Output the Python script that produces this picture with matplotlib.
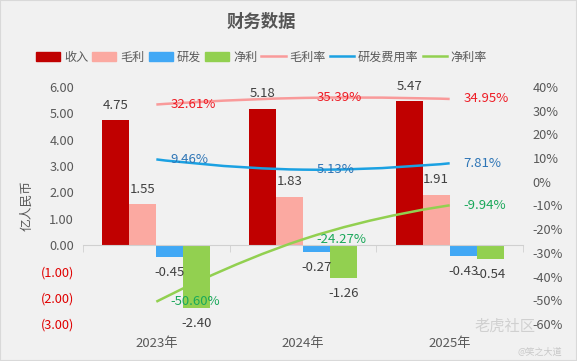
import numpy as np
import matplotlib
matplotlib.use("Agg")
import matplotlib.pyplot as plt
from matplotlib.path import Path
from matplotlib.patches import PathPatch, Rectangle
from matplotlib.lines import Line2D
from matplotlib.ticker import FuncFormatter

plt.rcParams['font.family'] = ['Noto Sans CJK SC', 'DejaVu Sans']

# ---------------- data ----------------
years = ["2023年", "2024年", "2025年"]
revenue = [4.75, 5.18, 5.47]
gross_profit = [1.55, 1.83, 1.91]
rnd = [-0.45, -0.27, -0.43]
net_profit = [-2.40, -1.26, -0.54]
gross_margin = [32.61, 35.39, 34.95]
rnd_rate = [9.46, 5.13, 7.81]
net_margin = [-50.60, -24.27, -9.94]

bar_names = ["收入", "毛利", "研发", "净利"]
line_names = ["毛利率", "研发费用率", "净利率"]
bar_colors = ["#c00000", "#fba9a1", "#41a8f5", "#92d050"]
line_colors = ["#f99a9a", "#1ba1e2", "#92d050"]
line_label_colors = ["#ee1c25", "#2e75b6", "#1aa85a"]

title = "财务数据"
ylabel = "亿人民币"

W, H = 577, 361
fig = plt.figure(figsize=(W / 100, H / 100), dpi=100)
fig.patch.set_facecolor("#f1f1f1")
fig.patches.append(Rectangle((0, 0), 1, 1, transform=fig.transFigure,
                             fill=False, edgecolor="#d9d9d9", linewidth=1.5))

ax = fig.add_axes([83 / W, 1 - 324 / H, 440 / W, 237 / H])
ax.set_facecolor("none")
ax2 = ax.twinx()
ax2.set_facecolor("none")

x = np.arange(len(years))
bw = 0.184
series = [revenue, gross_profit, rnd, net_profit]
text_c = "#404040"
for k, (vals, col) in enumerate(zip(series, bar_colors)):
    xs = x + (k - 1.5) * bw
    ax.bar(xs, vals, width=bw, color=col, zorder=2)
    for xi, v in zip(xs, vals):
        if v >= 0:
            ax.annotate(f"{v:.2f}", (xi, v), xytext=(0, 6), textcoords="offset points",
                        ha="center", va="bottom", fontsize=9.5, color=text_c)
        else:
            ax.annotate(f"{v:.2f}", (xi, v), xytext=(0, -6.5), textcoords="offset points",
                        ha="center", va="top", fontsize=9.5, color=text_c)

ax.set_xlim(-0.5, len(years) - 0.5)
ax.set_ylim(-3, 6)
ax.set_yticks(np.arange(-3, 7, 1))


def lfmt(v, pos):
    return f"({abs(v):.2f})" if v < 0 else f"{v:.2f}"


ax.yaxis.set_major_formatter(FuncFormatter(lfmt))
ax.tick_params(axis="y", length=0, pad=6.5, labelsize=9.2)
for lbl, v in zip(ax.get_yticklabels(), np.arange(-3, 7, 1)):
    lbl.set_color("#e00000" if v < 0 else "#595959")
ax.set_ylabel(ylabel, fontsize=9.2, color="#595959", labelpad=5)

for s in ["top", "left", "right"]:
    ax.spines[s].set_visible(False)
    ax2.spines[s].set_visible(False)
ax2.spines["bottom"].set_visible(False)
ax.spines["bottom"].set_position(("data", 0))
ax.spines["bottom"].set_color("#d0d0d0")
ax.set_xticks([])
ax.set_xticks(np.arange(-0.5, len(years), 1), minor=True)
ax.tick_params(axis="x", which="minor", length=5, color="#d0d0d0", labelbottom=False)

sec = ax.secondary_xaxis("bottom")
sec.set_xticks(x, labels=years)
sec.tick_params(length=0, pad=9, labelsize=9.5, labelcolor="#595959")
sec.spines["bottom"].set_visible(False)

# right axis
ax2.set_ylim(-60, 40)
ax2.set_yticks(np.arange(-60, 41, 10))
ax2.yaxis.set_major_formatter(FuncFormatter(lambda v, p: f"{v:.0f}%"))
ax2.tick_params(axis="y", length=0, pad=7, labelsize=9.2, labelcolor="#595959")


def smooth_path(xs, ys, s=0.5):
    pts = np.column_stack([xs, ys]).astype(float)
    n = len(pts)
    cps = []
    for i in range(n):
        if i == 0 or i == n - 1:
            cps.append((pts[i], pts[i]))
        else:
            v = pts[i + 1] - pts[i - 1]
            cps.append((pts[i] - v * s / 2, pts[i] + v * s / 2))
    verts = [pts[0]]
    codes = [Path.MOVETO]
    for i in range(n - 1):
        verts += [cps[i][1], cps[i + 1][0], pts[i + 1]]
        codes += [Path.CURVE4] * 3
    return Path(verts, codes)


rates = [gross_margin, rnd_rate, net_margin]
for vals, col, lc in zip(rates, line_colors, line_label_colors):
    ax2.add_patch(PathPatch(smooth_path(x, vals), facecolor="none", edgecolor=col,
                            linewidth=1.8, zorder=3))
    for xi, v in zip(x, vals):
        ax2.annotate(f"{v:.2f}%", (xi, v), xytext=(10, 0), textcoords="offset points",
                     ha="left", va="center", fontsize=9.5, color=lc, zorder=4)

# title & legend
cx = 261.5 / W
fig.text(cx, 1 - 22 / H, title, ha="center", va="center", fontsize=12.5,
         fontweight="bold", color="#555555")
handles = [Rectangle((0, 0), 1, 1, color=c) for c in bar_colors] + \
          [Line2D([0], [0], color=c, linewidth=1.8) for c in line_colors]
fig.legend(handles, bar_names + line_names, loc="center",
           bbox_to_anchor=(cx, 1 - 57 / H), ncol=7, frameon=False,
           fontsize=8.7, handlelength=2.0, handleheight=0.8, handletextpad=0.33,
           columnspacing=0.33, labelcolor="#595959")

# watermark texts
fig.text(505 / W, 1 - 326 / H, "老虎社区", ha="center", va="center",
         fontsize=11, color="#d0d0d0")
fig.text(540 / W, 1 - 352 / H, "@笑之大道", ha="center", va="center",
         fontsize=6.5, color="#c8c8c8")

fig.savefig("out.png", dpi=100, facecolor=fig.get_facecolor())
